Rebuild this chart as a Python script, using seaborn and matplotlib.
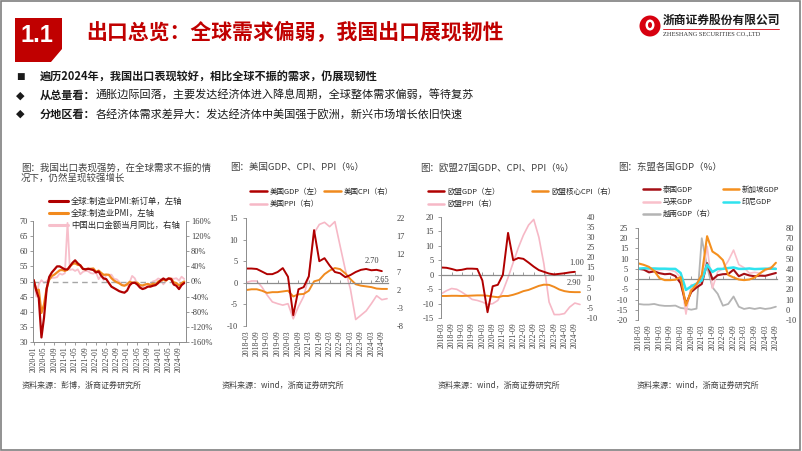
import pandas as pd
import matplotlib
matplotlib.use('Agg')
import matplotlib.pyplot as plt
import matplotlib.dates as mdates
from matplotlib.patches import Polygon, Ellipse, Rectangle
from matplotlib.lines import Line2D
import seaborn as sns

sns.set_theme(style='white')
plt.rcParams['font.family'] = ['Noto Sans CJK SC', 'DejaVu Sans']
plt.rcParams['axes.unicode_minus'] = False

W, H = 802, 451
SERIF = 'Liberation Serif'
RED = '#C00000'
AXC = '#8C8C8C'
TXT = '#404040'

# ---------------- data ----------------
# chart 1: global manufacturing PMI vs China exports, monthly 2020-01 .. 2024-11
pmi_months = pd.date_range('2020-01-01', periods=59, freq='MS')
pmi_new_orders = [50.5, 47.0, 44.5, 31.5, 38.0, 47.5, 51.5, 53.0, 54.0, 55.0, 55.0, 54.5,
                  54.0, 54.0, 55.0, 56.2, 57.0, 56.0, 55.3, 54.2, 54.0, 54.2, 54.0, 53.8,
                  53.0, 53.3, 52.0, 51.0, 50.8, 49.5, 48.3, 47.8, 47.3, 46.8, 46.5, 46.3,
                  47.0, 48.8, 49.5, 49.6, 49.0, 48.0, 47.5, 47.8, 48.3, 48.3, 48.6, 48.8,
                  49.5, 50.4, 51.0, 50.5, 51.0, 50.8, 49.0, 48.6, 47.5, 48.8, 49.5]
pmi_mfg = [50.4, 47.1, 47.3, 39.6, 42.4, 47.8, 50.6, 51.8, 52.3, 53.0, 53.7, 53.8,
           53.5, 53.9, 55.0, 55.8, 56.0, 55.5, 55.4, 54.1, 54.1, 54.2, 54.2, 54.3,
           53.2, 53.6, 52.9, 52.2, 52.3, 52.2, 51.1, 50.3, 49.8, 49.4, 48.8, 48.6,
           49.1, 49.9, 49.6, 49.6, 49.6, 48.8, 48.7, 49.0, 49.2, 48.8, 49.3, 49.0,
           50.0, 50.3, 50.6, 50.3, 51.0, 50.9, 49.7, 49.5, 48.7, 49.4, 50.0]
cn_export_yoy = [0.0, -40.0, -7.0, 3.5, -3.3, 0.5, 7.2, 9.5, 9.9, 11.4, 21.1, 18.1,
                 22.0, 154.9, 30.6, 32.3, 27.9, 32.2, 19.3, 25.6, 28.1, 27.1, 22.0, 20.9,
                 24.1, 6.2, 14.7, 3.9, 16.9, 17.9, 18.0, 7.1, 5.7, -0.3, -8.7, -9.9,
                 -10.5, -1.3, 14.8, 8.5, -7.5, -12.4, -14.5, -8.8, -6.2, -6.4, 0.5, 2.3,
                 8.0, 5.6, -7.5, 1.5, 7.6, 8.6, 7.0, 8.7, 2.4, 12.7, 6.7]

# charts 2-4: quarterly, 2018-03 .. 2024-09 (GDP) and .. 2024-12 (prices)
q_dates = pd.date_range('2018-03-01', periods=27, freq='3MS')
q_dates_ext = pd.date_range('2018-03-01', periods=28, freq='3MS')

us_gdp = [3.3, 3.3, 3.2, 2.6, 2.0, 2.0, 2.5, 3.4, 1.4, -7.5, -1.5, -1.0, 1.5, 12.2,
          5.0, 5.7, 4.0, 2.5, 2.2, 1.3, 1.8, 2.5, 3.0, 3.2, 2.9, 3.0, 2.7]
us_cpi = [2.0, 2.2, 2.2, 1.8, 1.2, 1.4, 1.4, 1.6, 1.8, 0.2, 0.8, 0.9, 1.8, 4.4,
          4.8, 6.4, 7.4, 8.1, 7.8, 6.6, 5.0, 3.6, 3.2, 3.0, 2.8, 2.4, 2.3, 2.3]
us_ppi = [4.1, 4.5, 4.5, 2.8, 0.6, -1.3, -1.8, -2.2, -1.8, -6.0, -2.6, 0.2, 5.8, 17.8,
          20.2, 20.8, 19.6, 21.0, 14.2, 7.6, 2.2, -6.2, -5.0, -3.8, -1.8, 0.4, -0.7, -0.4]

eu_gdp = [2.5, 2.4, 2.0, 1.5, 1.7, 2.1, 2.1, 2.0, -2.0, -13.0, -4.0, -3.5, 0.0, 14.5,
          5.0, 5.8, 5.5, 4.2, 2.8, 1.6, 1.0, 0.4, 0.1, 0.3, 0.5, 0.8, 1.0]
eu_core_cpi = [0.9, 0.9, 1.0, 1.0, 0.9, 1.0, 1.1, 1.2, 1.2, 1.0, 0.6, 0.3, 0.9, 0.9,
               1.5, 2.3, 3.3, 3.9, 4.9, 5.9, 6.5, 6.4, 5.4, 4.1, 3.3, 2.9, 2.8, 2.8]
eu_ppi = [2.0, 3.5, 4.6, 4.2, 2.8, 1.1, -0.8, -1.3, -2.1, -3.3, -2.9, -1.3, 3.3, 10.0,
          17.5, 24.8, 31.0, 36.0, 38.8, 30.0, 16.7, -2.1, -8.3, -8.3, -7.8, -4.6, -2.6, -3.3]

th_gdp = [5.0, 4.7, 3.3, 3.8, 2.9, 2.4, 2.6, 1.5, -2.0, -12.1, -6.3, -4.1, -2.4, 7.8,
          -0.2, 1.9, 2.4, 2.5, 4.6, 1.4, 2.6, 1.8, 1.4, 1.7, 1.6, 2.3, 3.0]
sg_gdp = [7.7, 7.0, 6.0, 4.0, 0.5, -0.5, -0.5, -0.3, 1.0, -13.0, -5.5, -2.5, 2.0, 21.0,
          13.5, 11.8, 9.3, 2.0, 0.8, -0.2, -0.5, -0.2, 0.8, 2.8, 4.7, 5.2, 8.0]
my_gdp = [5.3, 4.5, 4.4, 4.7, 4.5, 4.8, 4.4, 3.6, 0.7, -17.1, -2.7, -3.4, -0.5, 16.1,
          -4.5, 3.6, 5.0, 8.9, 14.2, 7.1, 5.6, 2.9, 3.3, 2.9, 4.2, 5.9, 5.3]
id_gdp = [5.1, 5.3, 5.2, 5.2, 5.1, 5.1, 5.0, 5.0, 3.0, -5.3, -3.5, -2.2, -0.7, 7.1,
          3.5, 5.0, 5.0, 5.4, 5.7, 5.0, 5.0, 5.2, 4.9, 5.0, 5.1, 5.1, 5.0]
vn_gdp = [5.7, 5.1, 5.1, 5.7, 4.4, 3.8, 3.8, 4.1, 1.8, 1.1, 0.1, 1.1, 70.0, 42.0,
          22.0, 15.6, 4.0, 5.7, 13.0, 3.0, 0.8, 1.8, 0.8, 1.8, 0.8, 1.5, 3.0]

fig = plt.figure(figsize=(W / 100, H / 100), dpi=100)
fig.patch.set_facecolor('white')


def add_ax(l, t, r, b):
    return fig.add_axes([l / W, 1 - b / H, (r - l) / W, (b - t) / H])


def put(x, y, s, **kw):
    return fig.text(x / W, 1 - y / H, s, **kw)


# ---------------- header ----------------
fig.add_artist(Rectangle((0.001, 0.002), 0.997, 0.996, transform=fig.transFigure,
                         fill=False, edgecolor='#7F7F7F', lw=1.2))
box = [(15, 18), (62, 18), (62, 49), (51, 62), (15, 62)]
fig.add_artist(Polygon([(x / W, 1 - y / H) for x, y in box], closed=True,
                       transform=fig.transFigure, facecolor=RED, edgecolor='none'))
put(37, 35, '1.1', color='white', fontsize=17, fontweight='bold', ha='center',
    va='center', family='Liberation Sans')
put(86, 33, '出口总览：全球需求偏弱，我国出口展现韧性', color=RED, fontsize=15,
    fontweight='bold', va='center')

# logo
fig.add_artist(Ellipse((650 / W, 1 - 26 / H), 21 / W, 21 / H, transform=fig.transFigure,
                       facecolor='#D7000F', edgecolor='none'))
fig.add_artist(Ellipse((650 / W, 1 - 25 / H), 9 / W, 11 / H, transform=fig.transFigure,
                       facecolor='white', edgecolor='none'))
fig.add_artist(Ellipse((650 / W, 1 - 25 / H), 4 / W, 6 / H, transform=fig.transFigure,
                       facecolor='#D7000F', edgecolor='none'))
put(663, 20, '浙商证券股份有限公司', fontsize=8.5, fontweight='bold', color='#1A1A1A', va='center')
fig.add_artist(Line2D([663 / W, 779 / W], [1 - 29 / H, 1 - 29 / H], transform=fig.transFigure,
                      color='#D7000F', lw=0.6))
put(663, 34, 'ZHESHANG SECURITIES CO.,LTD', fontsize=4.6, family=SERIF, color='#333333', va='center')

# bullets
renderer = fig.canvas.get_renderer()
bullets = [('■', '遍历2024年，我国出口表现较好，相比全球不振的需求，仍展现韧性', ''),
           ('◆', '从总量看：', '通胀边际回落，主要发达经济体进入降息周期，全球整体需求偏弱，等待复苏'),
           ('◆', '分地区看：', '各经济体需求差异大：发达经济体中美国强于欧洲，新兴市场增长依旧快速')]
for i, (mark, bold, rest) in enumerate(bullets):
    yy = 77 + i * 18.5
    put(20, yy, mark, fontsize=6.5 if mark == '■' else 8, color='#1A1A1A', va='center', ha='center',
        family=['DejaVu Sans'])
    t = put(40, yy, bold, fontsize=8, fontweight='bold', color='#1A1A1A', va='center')
    if rest:
        bb = t.get_window_extent(renderer)
        fig.text(bb.x1 / W, 1 - yy / H, rest, fontsize=8, color='#1A1A1A', va='center')

# chart titles and sources
TITLE_KW = dict(fontsize=6.8, color=TXT, va='top')
put(21, 163, '图：我国出口表现强势，在全球需求不振的情\n况下，仍然呈现较强增长', linespacing=1.05, **TITLE_KW)
put(230, 163, '图：美国GDP、CPI、PPI（%）', **TITLE_KW)
put(420, 163, '图：欧盟27国GDP、CPI、PPI（%）', **TITLE_KW)
put(618, 163, '图：东盟各国GDP（%）', **TITLE_KW)
for xs, src in [(22, '资料来源：彭博，浙商证券研究所'), (222, '资料来源：wind，浙商证券研究所'),
                (438, '资料来源：wind，浙商证券研究所'), (637, '资料来源：wind，浙商证券研究所')]:
    put(xs, 385, src, fontsize=5.8, color=TXT, va='center')


def tick_style(ax, axis, **kw):
    ax.tick_params(axis=axis, labelcolor=TXT, labelfontfamily=SERIF, color=AXC,
                   width=0.6, **kw)


# ---------------- chart 1 ----------------
C1_RED, C1_ORANGE, C1_PINK = '#B00000', '#F28A1E', '#F7BFCB'
ax1 = add_ax(33, 221, 186, 342)
ax1r = ax1.twinx()
ax1.set_zorder(ax1r.get_zorder() + 1)
ax1.patch.set_visible(False)
sns.lineplot(x=pmi_months, y=cn_export_yoy, ax=ax1r, color=C1_PINK, lw=1.3)
ax1.axhline(50, color='#A6A6A6', lw=1.0, ls=(0, (4, 3)), zorder=0)
sns.lineplot(x=pmi_months, y=pmi_mfg, ax=ax1, color=C1_ORANGE, lw=1.6)
sns.lineplot(x=pmi_months, y=pmi_new_orders, ax=ax1, color=C1_RED, lw=1.6)
ax1.set_ylim(30, 70)
ax1.set_yticks(range(30, 71, 5))
ax1r.set_ylim(-160, 160)
ax1r.set_yticks(range(-160, 161, 40))
ax1r.set_yticklabels([f'{v}%' for v in range(-160, 161, 40)])
ax1.set_xlim(pd.Timestamp('2019-12-24'), pd.Timestamp('2024-11-22'))
ax1.xaxis.set_major_locator(mdates.MonthLocator(bymonth=[1, 5, 9]))
ax1.xaxis.set_major_formatter(mdates.DateFormatter('%Y-%m'))
for a in (ax1, ax1r):
    a.set_xlabel('')
    a.set_ylabel('')
for s in ('top', 'right'):
    ax1.spines[s].set_visible(False)
for s in ('top', 'left', 'bottom'):
    ax1r.spines[s].set_visible(False)
for s in (ax1.spines['left'], ax1.spines['bottom'], ax1r.spines['right']):
    s.set_color(AXC)
    s.set_linewidth(0.7)
tick_style(ax1, 'x', direction='out', length=2, labelsize=5.6, labelrotation=90, pad=1, bottom=True)
tick_style(ax1, 'y', direction='out', length=2, labelsize=6, pad=1.5, left=True)
tick_style(ax1r, 'y', direction='out', length=2, labelsize=6, pad=1.5, right=True)
fig.legend([Line2D([], [], color=c, lw=2.2) for c in (C1_RED, C1_ORANGE, C1_PINK)],
           ['全球:制造业PMI:新订单，左轴', '全球:制造业PMI，左轴', '中国出口金额当月同比，右轴'],
           loc='upper left', bbox_to_anchor=(49 / W, 1 - 197 / H), frameon=False, fontsize=6,
           handlelength=2.3, handletextpad=0.35, labelspacing=0.38, borderpad=0,
           borderaxespad=0, labelcolor='#262626')


# ---------------- charts 2-4 helpers ----------------
def style_pair(ax, axr, ylim, ystep, rlim, rstep, xmax, lpad, rpad):
    ax.set_ylim(*ylim)
    ax.set_yticks(range(ylim[0], ylim[1] + 1, ystep))
    axr.set_ylim(*rlim)
    axr.set_yticks(range(rlim[0], rlim[1] + 1, rstep))
    ax.set_xlim(pd.Timestamp('2018-02-24'), pd.Timestamp(xmax))
    ax.xaxis.set_major_locator(mdates.MonthLocator(bymonth=[3, 9]))
    ax.xaxis.set_major_formatter(mdates.DateFormatter('%Y-%m'))
    for a in (ax, axr):
        a.set_xlabel('')
        a.set_ylabel('')
        for s in a.spines.values():
            s.set_visible(False)
    ax.spines['left'].set_visible(True)
    ax.spines['left'].set_color(AXC)
    ax.spines['left'].set_linewidth(0.7)
    tick_style(ax, 'x', length=0, labelsize=5.6, labelrotation=90, pad=3)
    tick_style(ax, 'y', direction='out', length=2, labelsize=6, pad=lpad, left=True)
    tick_style(axr, 'y', length=0, labelsize=6, pad=rpad)
    frac = (0 - ylim[0]) / (ylim[1] - ylim[0])
    zx = ax.secondary_xaxis(frac)
    zx.xaxis.set_major_locator(mdates.MonthLocator(bymonth=[3, 9]))
    zx.tick_params(axis='x', direction='in', length=2, width=0.6, color=AXC,
                   labelbottom=False, labeltop=False, bottom=True)
    for s in zx.spines.values():
        s.set_color(AXC)
        s.set_linewidth(0.9)
    ax.set_zorder(axr.get_zorder() + 1)
    ax.patch.set_visible(False)


def small_legend(ax_handles, labels, x, y, colsp):
    fig.legend(ax_handles, labels, loc='upper left', bbox_to_anchor=(x / W, 1 - y / H),
               ncol=2, frameon=False, fontsize=5.4, handlelength=2.2, handletextpad=0.4,
               labelspacing=0.55, columnspacing=colsp, borderpad=0, borderaxespad=0,
               labelcolor='#262626')


D_RED, ORANGE, PINK = '#B00000', '#F08A1E', '#F6B8C6'

# ---------------- chart 2: US ----------------
ax2 = add_ax(246, 218, 388, 326)
ax2r = ax2.twinx()
sns.lineplot(x=q_dates_ext, y=us_ppi, ax=ax2r, color=PINK, lw=1.2)
sns.lineplot(x=q_dates_ext, y=us_cpi, ax=ax2r, color=ORANGE, lw=1.4)
sns.lineplot(x=q_dates, y=us_gdp, ax=ax2, color=D_RED, lw=1.4)
style_pair(ax2, ax2r, (-10, 15), 5, (-8, 22), 5, '2024-12-18', 4, 6)
ax2.annotate(f'{us_gdp[-1]:.2f}', xy=(q_dates[-1], us_gdp[-1]), xytext=(-10, 10),
             textcoords='offset pixels', ha='center', va='center', fontsize=6,
             family=SERIF, color=TXT)
ax2r.annotate('2.65', xy=(q_dates_ext[-1], us_cpi[-1]), xytext=(-5, 9),
              textcoords='offset pixels', ha='center', va='center', fontsize=6,
              family=SERIF, color=TXT)
small_legend([Line2D([], [], color=c, lw=1.8) for c in (D_RED, PINK, ORANGE)],
             ['美国GDP（左）', '美国PPI（右）', '美国CPI（右）'], 250, 188, 0.3)

# ---------------- chart 3: EU ----------------
ax3 = add_ax(441, 217, 581, 318)
ax3r = ax3.twinx()
sns.lineplot(x=q_dates_ext, y=eu_ppi, ax=ax3r, color=PINK, lw=1.2)
sns.lineplot(x=q_dates_ext, y=eu_core_cpi, ax=ax3r, color=ORANGE, lw=1.4)
sns.lineplot(x=q_dates, y=eu_gdp, ax=ax3, color=D_RED, lw=1.4)
style_pair(ax3, ax3r, (-15, 20), 5, (-10, 40), 5, '2024-12-20', 3, 4)
ax3.annotate(f'{eu_gdp[-1]:.2f}', xy=(q_dates[-1], eu_gdp[-1]), xytext=(2, 9),
             textcoords='offset pixels', ha='center', va='center', fontsize=6,
             family=SERIF, color=TXT)
ax3r.annotate(f'{eu_core_cpi[-1] + 0.1:.2f}', xy=(q_dates_ext[-1], eu_core_cpi[-1]), xytext=(-6, 9),
              textcoords='offset pixels', ha='center', va='center', fontsize=6,
              family=SERIF, color=TXT)
small_legend([Line2D([], [], color=c, lw=1.8) for c in (D_RED, PINK, ORANGE)],
             ['欧盟GDP（左）', '欧盟PPI（右）', '欧盟核心CPI（右）'], 428, 188, 4.2)

# ---------------- chart 4: ASEAN ----------------
TH, SG, MY, ID, VN = '#A50F15', '#F5901E', '#F9C0CB', '#2FE3EE', '#B4B4B4'
ax4 = add_ax(638, 228, 777, 320)
ax4r = ax4.twinx()
sns.lineplot(x=q_dates, y=vn_gdp, ax=ax4r, color=VN, lw=1.3)
sns.lineplot(x=q_dates, y=my_gdp, ax=ax4, color=MY, lw=1.2)
sns.lineplot(x=q_dates, y=th_gdp, ax=ax4, color=TH, lw=1.5)
sns.lineplot(x=q_dates, y=id_gdp, ax=ax4, color=ID, lw=1.8)
sns.lineplot(x=q_dates, y=sg_gdp, ax=ax4, color=SG, lw=1.5)
style_pair(ax4, ax4r, (-20, 25), 5, (-10, 80), 10, '2024-09-20', 5, 6)
small_legend([Line2D([], [], color=c, lw=1.8) for c in (TH, MY, VN, SG, ID)],
             ['泰国GDP', '马来GDP', '越南GDP（右）', '新加坡GDP', '印尼GDP'], 643, 186, 1.0)

fig.savefig('out.png', dpi=100, facecolor='white')
